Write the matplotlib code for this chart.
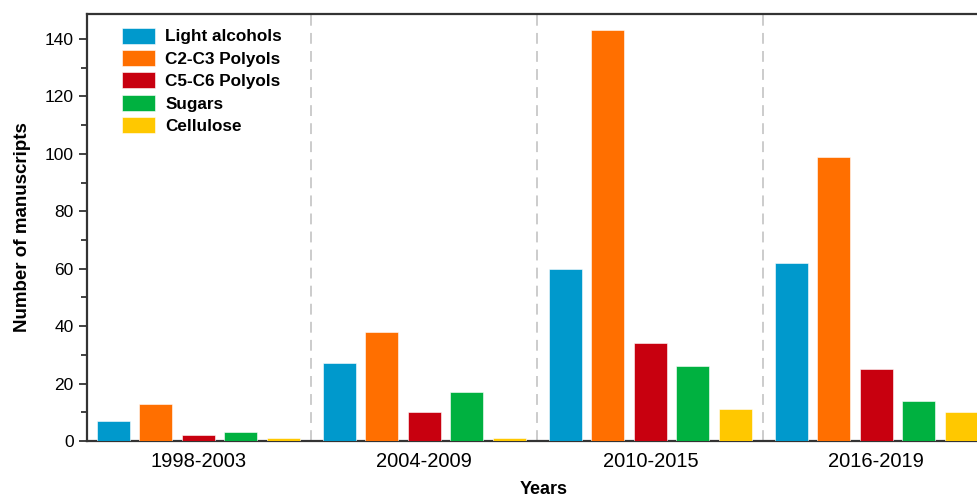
import matplotlib
matplotlib.use("Agg")
import matplotlib.pyplot as plt
import numpy as np

plt.rcParams['font.family'] = ['Liberation Sans', 'DejaVu Sans']

periods = ["1998-2003", "2004-2009", "2010-2015", "2016-2019"]
series_names = ["Light alcohols", "C2-C3 Polyols", "C5-C6 Polyols", "Sugars", "Cellulose"]
light_alcohols = [7, 27, 60, 62]
c2c3_polyols = [13, 38, 143, 99]
c5c6_polyols = [2, 10, 34, 25]
sugars = [3, 17, 26, 14]
cellulose = [1, 1, 11, 10]
colors = ["#0099CC", "#FF6F00", "#C8000F", "#00B140", "#FFC800"]

series = [light_alcohols, c2c3_polyols, c5c6_polyols, sugars, cellulose]

fig = plt.figure(figsize=(9.77, 5.01), dpi=100)
ax = fig.add_axes([87/977, (501-441)/501, (1000-87)/977, (441-14)/501])

x = np.arange(len(periods))
step = 0.1876
width = 0.146
for i, (vals, name, c) in enumerate(zip(series, series_names, colors)):
    ax.bar(x + (i - 2) * step, vals, width, color=c, label=name,
           edgecolor='white', linewidth=0.4, zorder=3)

for b in [0.5, 1.5, 2.5]:
    ax.axvline(b, color='#c8c8c8', linestyle=(0, (6, 4)), linewidth=1.3, zorder=1)

ax.set_xlim(-0.4925, 3.547)
ax.set_ylim(0, 148.7)
ax.set_xticks(x)
ax.set_xticklabels(periods, fontsize=14.5)
ax.tick_params(axis='x', length=0, pad=8)
ax.set_yticks(np.arange(0, 141, 20))
ax.set_yticks(np.arange(10, 141, 20), minor=True)
ax.tick_params(axis='y', which='major', labelsize=12.5, length=6, width=1.3, direction='out', color='#333333')
ax.tick_params(axis='y', which='minor', length=4, width=1.3, direction='out', color='#333333')
for s in ax.spines.values():
    s.set_linewidth(1.6)
    s.set_color('#333333')

ax.set_ylabel("Number of manuscripts", fontsize=13.5, fontweight='bold', labelpad=10)
ax.set_xlabel("Years", fontsize=13, fontweight='bold', labelpad=7)

leg = ax.legend(loc='upper left', bbox_to_anchor=(0.022, 1.004), frameon=False,
                prop={'weight': 'bold', 'size': 12.3}, handlelength=1.9, handleheight=1.05,
                handletextpad=0.6, labelspacing=0.33)

fig.savefig("out.png", dpi=100)
